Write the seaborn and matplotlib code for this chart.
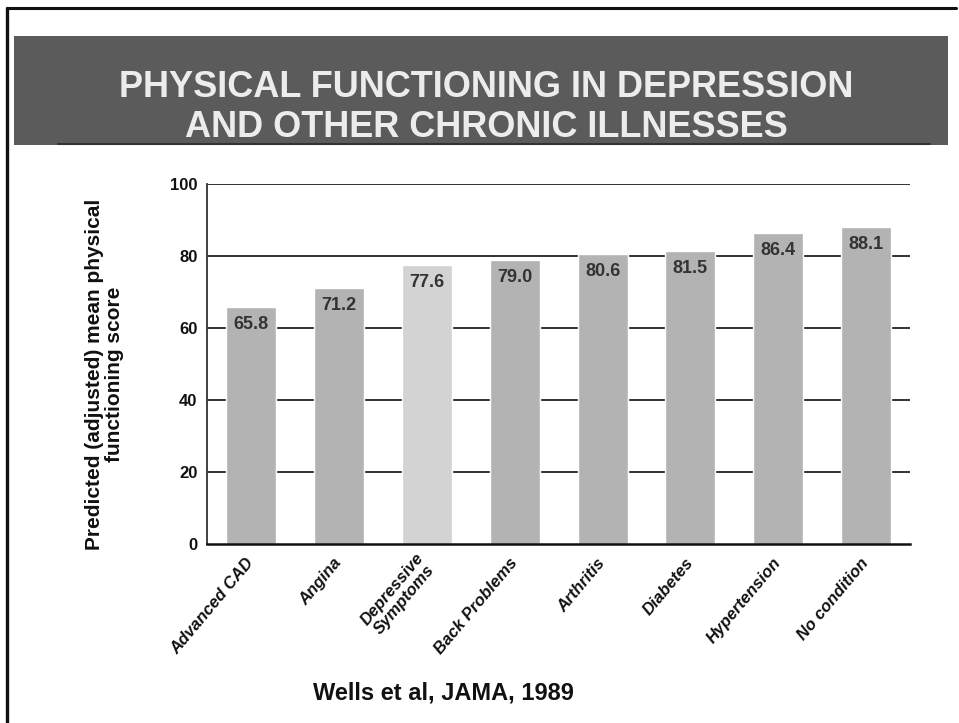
import matplotlib
matplotlib.use("Agg")
import matplotlib.pyplot as plt
import seaborn as sns
import pandas as pd
from matplotlib.patches import Rectangle
from matplotlib.lines import Line2D

categories = ["Advanced CAD", "Angina", "Depressive\nSymptoms", "Back Problems",
              "Arthritis", "Diabetes", "Hypertension", "No condition"]
scores = [65.8, 71.2, 77.6, 79.0, 80.6, 81.5, 86.4, 88.1]
yticks = [0, 20, 40, 60, 80, 100]
bar_colors = ["#b3b3b3", "#b3b3b3", "#d3d3d3", "#b3b3b3",
              "#b3b3b3", "#b3b3b3", "#b3b3b3", "#b3b3b3"]
title_lines = ["PHYSICAL FUNCTIONING IN DEPRESSION", "AND OTHER CHRONIC ILLNESSES"]
source = "Wells et al, JAMA, 1989"

sns.set_theme(style="white")
plt.rcParams["font.family"] = ["Liberation Sans", "DejaVu Sans"]

df = pd.DataFrame({"condition": categories, "score": scores})

fig = plt.figure(figsize=(9.59, 7.23), dpi=100)
ax = fig.add_axes([0.216, 0.248, 0.733, 0.4975])

for y in yticks[1:]:
    ax.axhline(y, color="#222222", lw=1.3, zorder=0)

sns.barplot(data=df, x="condition", y="score", hue="condition",
            palette=bar_colors, legend=False, width=0.57, saturation=1,
            ax=ax, zorder=2)

for i, v in enumerate(scores):
    ax.text(i, v - 2.6, f"{v:.1f}", ha="center", va="top", fontsize=13,
            fontweight="bold", color="#333333", zorder=3)

ax.set_ylim(0, 100)
ax.set_xlim(-0.5, 7.5)
ax.set_yticks(yticks)
ax.set_yticklabels([str(t) for t in yticks], fontsize=12, fontweight="bold",
                   color="#111111")
ax.tick_params(axis="y", length=0, pad=7)
ax.tick_params(axis="x", length=0, pad=12)
ax.set_xticks(range(len(categories)))
ax.set_xticklabels(categories, rotation=50, ha="right", rotation_mode="anchor",
                   va="center", multialignment="center",
                   fontsize=12, fontweight="bold", fontstyle="italic",
                   color="#111111", linespacing=1.0)
ax.set_xlabel("")
ax.set_ylabel("Predicted (adjusted) mean physical\nfunctioning score",
              fontsize=15, fontweight="bold", color="#111111",
              linespacing=1.05)
ax.yaxis.set_label_coords(-0.118, 0.47)

for side in ["top", "right"]:
    ax.spines[side].set_visible(False)
ax.spines["left"].set_color("#333333")
ax.spines["left"].set_linewidth(1.3)
ax.spines["bottom"].set_color("#111111")
ax.spines["bottom"].set_linewidth(1.8)

# slide frame and title banner
fig.add_artist(Line2D([0.007, 0.007], [0.0, 0.989], transform=fig.transFigure,
                      color="#111111", lw=2.4))
fig.add_artist(Line2D([0.007, 0.997], [0.989, 0.989], transform=fig.transFigure,
                      color="#111111", lw=2.2))
fig.add_artist(Rectangle((0.015, 0.7995), 0.974, 0.151, transform=fig.transFigure,
                         facecolor="#5b5b5b", edgecolor="none"))
fig.add_artist(Line2D([0.06, 0.97], [0.8005, 0.8005], transform=fig.transFigure,
                      color="#333333", lw=1.5))
for line, yb in zip(title_lines, [0.866, 0.810]):
    fig.text(0.507, yb, line, ha="center", va="baseline", fontsize=26,
             fontweight="bold", color="#ececec")

fig.text(0.462, 0.032, source, ha="center", va="baseline",
         fontsize=17, fontweight="bold", color="#111111")

fig.savefig("out.png", dpi=100, facecolor="white")
